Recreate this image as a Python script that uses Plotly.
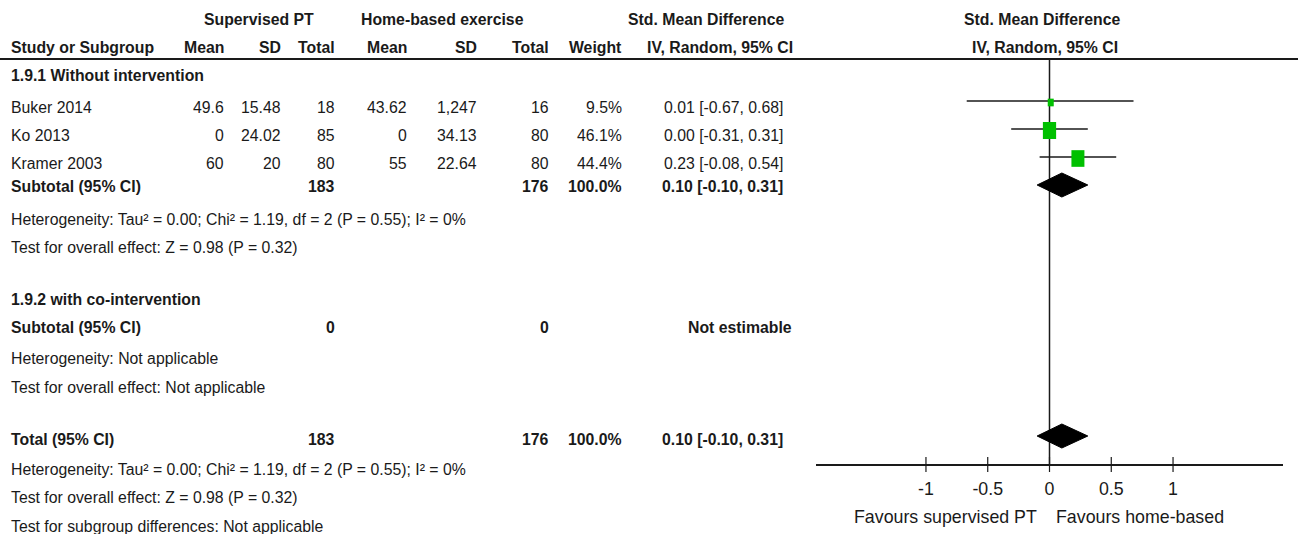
import plotly.graph_objects as go

W, H = 1298, 534

# ---------------- data ----------------
studies = ["Buker 2014", "Ko 2013", "Kramer 2003"]
sup_mean = [49.6, 0, 60]
sup_sd = [15.48, 24.02, 20]
sup_n = [18, 85, 80]
home_mean = [43.62, 0, 55]
home_sd = ["1,247", "34.13", "22.64"]
home_n = [16, 80, 80]
weights = [9.5, 46.1, 44.4]
smd = [0.01, 0.00, 0.23]
ci_lo = [-0.67, -0.31, -0.08]
ci_hi = [0.68, 0.31, 0.54]

subtotal = {"n_sup": 183, "n_home": 176, "weight": 100.0, "smd": 0.10, "lo": -0.10, "hi": 0.31}
total = {"n_sup": 183, "n_home": 176, "weight": 100.0, "smd": 0.10, "lo": -0.10, "hi": 0.31}

het_text = "Heterogeneity: Tau² = 0.00; Chi² = 1.19, df = 2 (P = 0.55); I² = 0%"
effect_text = "Test for overall effect: Z = 0.98 (P = 0.32)"

tick_vals = [-1, -0.5, 0, 0.5, 1]
tick_text = ["-1", "-0.5", "0", "0.5", "1"]

# ---------------- layout constants ----------------
FONT = "Arial, 'Liberation Sans', sans-serif"
TXT = "#1a1a1a"
GREEN = "#00c000"
FS = 15.8

ROW = {"group": 19, "cols": 47, "sg1": 75, "s": [107, 135, 163], "sub1": 186,
       "het1": 219, "eff1": 247, "sg2": 299, "sub2": 327, "het2": 358, "eff2": 387,
       "total": 439, "het3": 469, "eff3": 497, "subdiff": 526}

COL = {"label": 10, "sup_mean": 225, "sup_sd": 282, "sup_n": 336, "home_mean": 408,
       "home_sd": 478, "home_n": 550, "weight": 623, "ci": 784}

X_DOMAIN = [816 / W, 1283 / W]
X_RANGE = [-1.89, 1.89]
AXIS_Y = 464

annotations = []


def txt(text, xpx, ypx, anchor="left", bold=False, size=FS):
    annotations.append(dict(
        text=f"<b>{text}</b>" if bold else text,
        x=xpx / W, xref="paper", y=ypx, yref="y",
        xanchor=anchor, yanchor="middle", showarrow=False,
        font=dict(family=FONT, size=size, color=TXT), borderpad=0,
    ))


# header
txt("Supervised PT", 259, ROW["group"], "center", True)
txt("Home-based exercise", 442, ROW["group"], "center", True)
txt("Std. Mean Difference", 706, ROW["group"], "center", True)
txt("Std. Mean Difference", 1042, ROW["group"], "center", True)
txt("Study or Subgroup", COL["label"], ROW["cols"], "left", True)
for key, lab in [("sup_mean", "Mean"), ("sup_sd", "SD"), ("sup_n", "Total"),
                 ("home_mean", "Mean"), ("home_sd", "SD"), ("home_n", "Total"),
                 ("weight", "Weight")]:
    txt(lab, COL[key], ROW["cols"], "right", True)
txt("IV, Random, 95% CI", 794, ROW["cols"], "right", True)
txt("IV, Random, 95% CI", 1045, ROW["cols"], "center", True)

# subgroup 1
txt("1.9.1 Without intervention", COL["label"], ROW["sg1"], "left", True)
for i, name in enumerate(studies):
    y = ROW["s"][i]
    txt(name, COL["label"], y)
    txt(f"{sup_mean[i]:g}", COL["sup_mean"], y, "right")
    txt(f"{sup_sd[i]:g}", COL["sup_sd"], y, "right")
    txt(f"{sup_n[i]}", COL["sup_n"], y, "right")
    txt(f"{home_mean[i]:g}", COL["home_mean"], y, "right")
    txt(home_sd[i], COL["home_sd"], y, "right")
    txt(f"{home_n[i]}", COL["home_n"], y, "right")
    txt(f"{weights[i]:.1f}%", COL["weight"], y, "right")
    txt(f"{smd[i]:.2f} [{ci_lo[i]:.2f}, {ci_hi[i]:.2f}]", COL["ci"], y, "right")


def summary_row(label, d, y):
    txt(label, COL["label"], y, "left", True)
    txt(f"{d['n_sup']}", COL["sup_n"], y, "right", True)
    txt(f"{d['n_home']}", COL["home_n"], y, "right", True)
    txt(f"{d['weight']:.1f}%", COL["weight"], y, "right", True)
    txt(f"{d['smd']:.2f} [{d['lo']:.2f}, {d['hi']:.2f}]", COL["ci"], y, "right", True)


summary_row("Subtotal (95% CI)", subtotal, ROW["sub1"])
txt(het_text, COL["label"], ROW["het1"])
txt(effect_text, COL["label"], ROW["eff1"])

# subgroup 2
txt("1.9.2 with co-intervention", COL["label"], ROW["sg2"], "left", True)
txt("Subtotal (95% CI)", COL["label"], ROW["sub2"], "left", True)
txt("0", COL["sup_n"], ROW["sub2"], "right", True)
txt("0", COL["home_n"], ROW["sub2"], "right", True)
txt("Not estimable", 793, ROW["sub2"], "right", True)
txt("Heterogeneity: Not applicable", COL["label"], ROW["het2"])
txt("Test for overall effect: Not applicable", COL["label"], ROW["eff2"])

# total
summary_row("Total (95% CI)", total, ROW["total"])
txt(het_text, COL["label"], ROW["het3"])
txt(effect_text, COL["label"], ROW["eff3"])
txt("Test for subgroup differences: Not applicable", COL["label"], ROW["subdiff"])

# favours labels
txt("Favours supervised PT", 945, 517, "center", False, 17.8)
txt("Favours home-based", 1140, 517, "center", False, 17.8)

# ---------------- figure ----------------
fig = go.Figure()

# CI lines
ci_x, ci_y = [], []
for i in range(len(studies)):
    y = ROW["s"][i] - 6
    ci_x += [ci_lo[i], ci_hi[i], None]
    ci_y += [y, y, None]
fig.add_trace(go.Scatter(x=ci_x, y=ci_y, mode="lines",
                         line=dict(color=TXT, width=1.5), hoverinfo="skip"))


def diamond(d, yc, half_h=12):
    fig.add_trace(go.Scatter(
        x=[d["lo"], d["smd"], d["hi"], d["smd"], d["lo"]],
        y=[yc, yc - half_h, yc, yc + half_h, yc],
        mode="lines", fill="toself", fillcolor="black",
        line=dict(color="black", width=1), hoverinfo="skip"))


diamond(subtotal, ROW["sub1"] - 1)
diamond(total, ROW["total"] - 3)

shapes = []
# header rule
shapes.append(dict(type="line", xref="paper", x0=0, x1=1, yref="y", y0=59, y1=59,
                   line=dict(color=TXT, width=2)))
# zero line
shapes.append(dict(type="line", xref="x", x0=0, x1=0, yref="y", y0=59, y1=AXIS_Y,
                   line=dict(color=TXT, width=1.5), layer="below"))
# study squares sized by weight
for i in range(len(studies)):
    h = 2.5 * weights[i] ** 0.5
    w = 0.78 * h
    yc = ROW["s"][i] - 4.5
    shapes.append(dict(type="rect", xref="x", xsizemode="pixel", xanchor=smd[i],
                       x0=-w / 2, x1=w / 2, yref="y", y0=yc - h / 2, y1=yc + h / 2,
                       fillcolor=GREEN, line=dict(width=0), layer="above"))
# tick marks crossing the axis
for tv in tick_vals:
    shapes.append(dict(type="line", xref="x", x0=tv, x1=tv, yref="y",
                       y0=AXIS_Y - 7, y1=AXIS_Y + 8, line=dict(color=TXT, width=1.2)))

fig.update_layout(
    width=W, height=H,
    margin=dict(l=0, r=0, t=0, b=0),
    paper_bgcolor="white", plot_bgcolor="white",
    showlegend=False,
    annotations=annotations,
    shapes=shapes,
    xaxis=dict(domain=X_DOMAIN, range=X_RANGE, anchor="free", position=(H - AXIS_Y) / H,
               showline=True, linecolor=TXT, linewidth=1.5, ticks="",
               tickvals=tick_vals, ticktext=tick_text, ticklabelstandoff=8,
               tickfont=dict(family=FONT, size=17.8, color=TXT),
               showgrid=False, zeroline=False, fixedrange=True, automargin=False),
    yaxis=dict(domain=[0, 1], range=[H, 0], visible=False, fixedrange=True,
               showgrid=False, zeroline=False),
)

fig.write_html("out.html",
               config={"displayModeBar": False, "staticPlot": True},
               post_script="document.body.style.margin='0';document.body.style.overflow='hidden';")
